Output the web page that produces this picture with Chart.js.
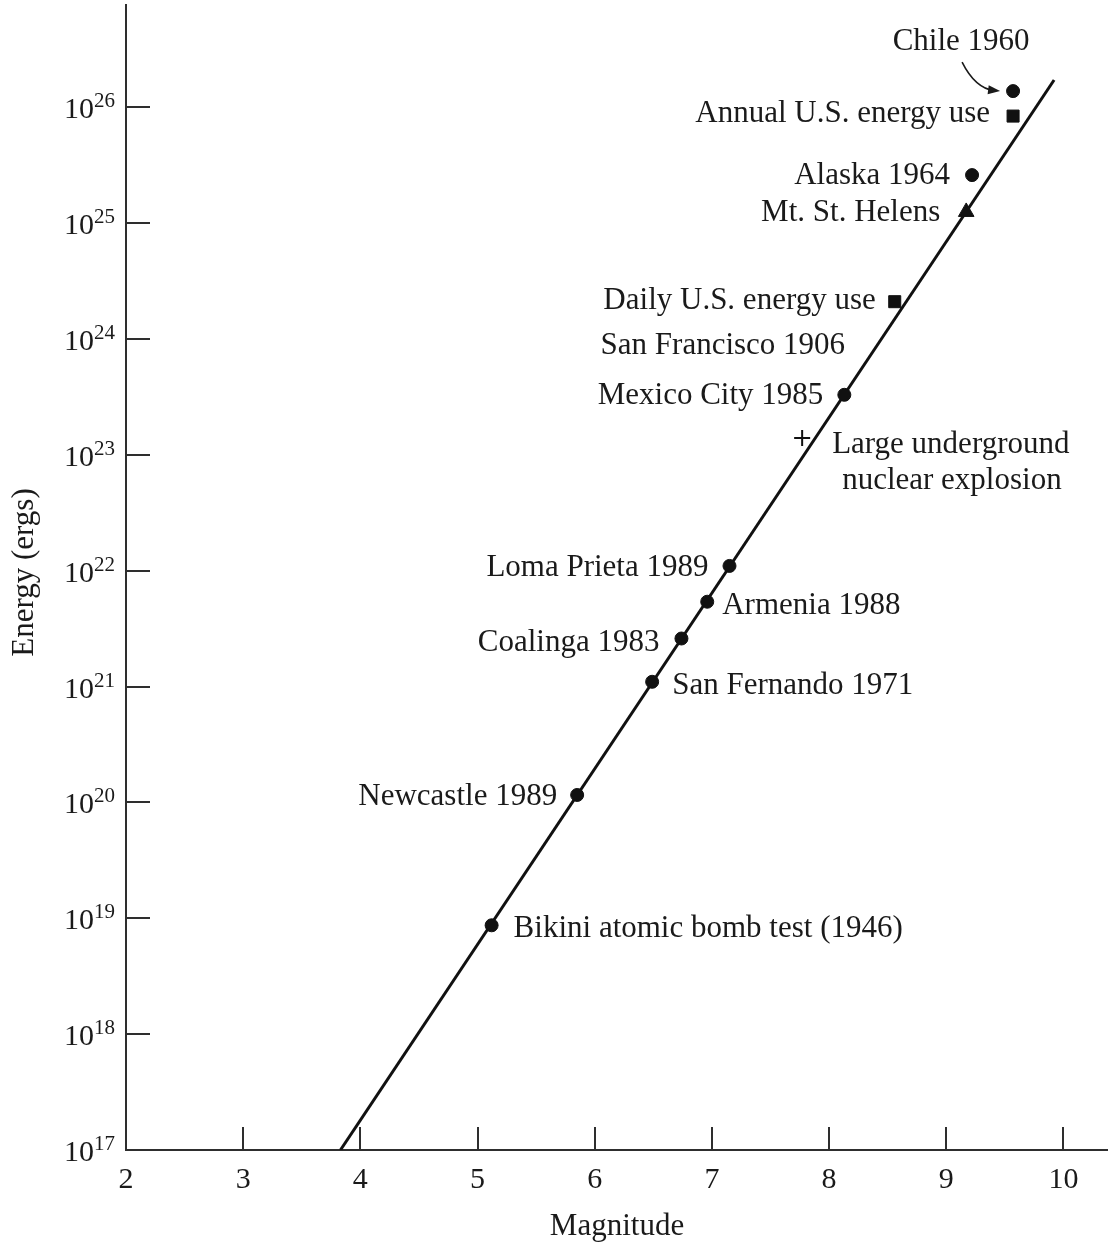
<!DOCTYPE html>
<html><head><meta charset="utf-8">
<script src="https://cdn.jsdelivr.net/npm/chart.js@4"></script>
<style>html,body{margin:0;padding:0;background:#fff;} #wrap{width:1108px;height:1242px;position:relative;}</style>
</head><body><div id="wrap"><canvas id="c"></canvas></div>
<script>
// ---- DATA ----
const magnitudeTicks = [2, 3, 4, 5, 6, 7, 8, 9, 10];
const energyExponents = [17, 18, 19, 20, 21, 22, 23, 24, 25, 26];

const lineMagnitudes = [3.83, 9.92];
const lineEnergies = [1e17, 1.72e26];

const quakeNames = ['Chile 1960', 'Alaska 1964', 'Mexico City 1985', 'Loma Prieta 1989', 'Armenia 1988',
  'Coalinga 1983', 'San Fernando 1971', 'Newcastle 1989', 'Bikini atomic bomb test (1946)'];
const quakeMagnitudes = [9.57, 9.22, 8.13, 7.15, 6.96, 6.74, 6.49, 5.85, 5.12];
const quakeEnergies = [1.38e26, 2.6e25, 3.3e23, 1.1e22, 5.4e21, 2.6e21, 1.1e21, 1.16e20, 8.7e18];

const energyUseNames = ['Annual U.S. energy use', 'Daily U.S. energy use'];
const energyUseMagnitudes = [9.57, 8.56];
const energyUseEnergies = [8.4e25, 2.1e24];

const volcanoNames = ['Mt. St. Helens'];
const volcanoMagnitudes = [9.17];
const volcanoEnergies = [1.25e25];

const explosionNames = ['Large underground', 'nuclear explosion'];
const explosionMagnitudes = [7.77];
const explosionEnergies = [1.4e23];

const noteNames = ['San Francisco 1906'];
const noteMagnitudes = [6.05];
const noteEnergies = [9.06e23];

const xTitle = 'Magnitude';
const yTitle = 'Energy (ergs)';

// ---- LABEL PLACEMENT (pixel offsets from marker: dx, baseline dy, align) ----
const quakeLabelPos = [[-52, -41, 'center'], [-22, 9, 'right'], [-21, 9, 'right'], [-21, 10, 'right'],
  [15, 12, 'left'], [-22, 12, 'right'], [20, 12, 'left'], [-20, 10, 'right'], [22, 12, 'left']];
const energyUseLabelPos = [[-23, 6, 'right'], [-19, 7, 'right']];
const volcanoLabelPos = [[-26, 9, 'right']];
const explosionLabelPos = [[30, 15, 'left'], [40, 51, 'left']];

const FONT = '"Liberation Serif", "DejaVu Serif", serif';
const INK = '#1a1a1a';
const AXIS = '#2e2e2e';

const toXY = (xs, ys) => xs.map((x, i) => ({ x: x, y: ys[i] }));

const decorPlugin = {
  id: 'decor',
  afterDraw(chart) {
    const ctx = chart.ctx;
    const xs = chart.scales.x, ys = chart.scales.y;
    const area = chart.chartArea;
    ctx.save();
    // inward ticks
    ctx.strokeStyle = AXIS;
    ctx.lineWidth = 2;
    energyExponents.forEach(e => {
      if (e === energyExponents[0]) return;
      const py = Math.round(ys.getPixelForValue(Math.pow(10, e)));
      ctx.beginPath(); ctx.moveTo(area.left, py); ctx.lineTo(area.left + 24, py); ctx.stroke();
    });
    magnitudeTicks.forEach(m => {
      if (m === magnitudeTicks[0]) return;
      const px = Math.round(xs.getPixelForValue(m));
      ctx.beginPath(); ctx.moveTo(px, area.bottom); ctx.lineTo(px, area.bottom - 23); ctx.stroke();
    });
    // y tick labels 10^n
    ctx.fillStyle = INK;
    energyExponents.forEach(e => {
      const py = ys.getPixelForValue(Math.pow(10, e));
      const right = area.left - 11;
      ctx.font = '21px ' + FONT;
      ctx.textAlign = 'right'; ctx.textBaseline = 'alphabetic';
      const sup = String(e);
      const w = ctx.measureText(sup).width;
      ctx.fillText(sup, right, py);
      ctx.font = '30px ' + FONT;
      ctx.fillText('10', right - w, py + 11);
    });
    // x tick labels
    ctx.font = '30px ' + FONT;
    ctx.textAlign = 'center';
    magnitudeTicks.forEach(m => {
      const px = xs.getPixelForValue(m);
      ctx.fillText(String(m), px, area.bottom + 38);
    });
    // axis titles
    ctx.font = '31px ' + FONT;
    ctx.fillText(xTitle, (area.left + area.right) / 2, area.bottom + 85);
    ctx.save();
    ctx.translate(33, (area.top + area.bottom) / 2 - 5);
    ctx.rotate(-Math.PI / 2);
    ctx.textAlign = 'center';
    ctx.fillText(yTitle, 0, 0);
    ctx.restore();

    // point labels
    const drawLabels = (names, mags, ens, pos) => {
      names.forEach((name, i) => {
        const k = Math.min(i, mags.length - 1);
        const px = xs.getPixelForValue(mags[k]);
        const py = ys.getPixelForValue(ens[k]);
        const p = pos[i];
        ctx.textAlign = p[2];
        ctx.fillText(name, px + p[0], py + p[1]);
      });
    };
    ctx.font = '31px ' + FONT;
    ctx.textBaseline = 'alphabetic';
    drawLabels(quakeNames, quakeMagnitudes, quakeEnergies, quakeLabelPos);
    drawLabels(energyUseNames, energyUseMagnitudes, energyUseEnergies, energyUseLabelPos);
    drawLabels(volcanoNames, volcanoMagnitudes, volcanoEnergies, volcanoLabelPos);
    drawLabels(explosionNames, explosionMagnitudes, explosionEnergies, explosionLabelPos);
    // free note (no marker)
    ctx.textAlign = 'left';
    ctx.fillText(noteNames[0], xs.getPixelForValue(noteMagnitudes[0]), ys.getPixelForValue(noteEnergies[0]) + 10);

    // Chile arrow
    const cx = xs.getPixelForValue(quakeMagnitudes[0]);
    const cy = ys.getPixelForValue(quakeEnergies[0]);
    const sx = cx - 51, sy = cy - 29, qx = cx - 38, qy = cy - 3, ex = cx - 13, ey = cy;
    ctx.strokeStyle = INK; ctx.lineWidth = 1.6;
    ctx.beginPath(); ctx.moveTo(sx, sy); ctx.quadraticCurveTo(qx, qy, ex - 6, ey - 0.5); ctx.stroke();
    const ang = Math.atan2(ey - qy, ex - qx);
    ctx.beginPath();
    ctx.moveTo(ex, ey);
    ctx.lineTo(ex - 12 * Math.cos(ang) + 4.5 * Math.sin(ang), ey - 12 * Math.sin(ang) - 4.5 * Math.cos(ang));
    ctx.lineTo(ex - 12 * Math.cos(ang) - 4.5 * Math.sin(ang), ey - 12 * Math.sin(ang) + 4.5 * Math.cos(ang));
    ctx.closePath(); ctx.fillStyle = INK; ctx.fill();
    ctx.restore();
  }
};

new Chart(document.getElementById('c'), {
  type: 'scatter',
  data: {
    datasets: [
      { label: 'fit', data: toXY(lineMagnitudes, lineEnergies), showLine: true, borderColor: '#111',
        borderWidth: 3, pointRadius: 0, fill: false, order: 5 },
      { label: 'quakes', data: toXY(quakeMagnitudes, quakeEnergies), pointStyle: 'circle', pointRadius: 6.5,
        borderWidth: 1, backgroundColor: '#111', borderColor: '#111', order: 1 },
      { label: 'energy use', data: toXY(energyUseMagnitudes, energyUseEnergies), pointStyle: 'rect', pointRadius: 8.5,
        borderWidth: 1, backgroundColor: '#111', borderColor: '#111', order: 1 },
      { label: 'volcano', data: toXY(volcanoMagnitudes, volcanoEnergies), pointStyle: 'triangle', pointRadius: 9,
        borderWidth: 1, backgroundColor: '#111', borderColor: '#111', order: 1 },
      { label: 'explosion', data: toXY(explosionMagnitudes, explosionEnergies), pointStyle: 'cross', pointRadius: 8,
        borderWidth: 2, backgroundColor: '#111', borderColor: '#111', order: 1 }
    ]
  },
  options: {
    responsive: true, maintainAspectRatio: false, animation: false,
    layout: { autoPadding: false, padding: { left: 126, right: 0, top: 5, bottom: 92 } },
    plugins: { legend: { display: false }, tooltip: { enabled: false } },
    scales: {
      x: { type: 'linear', min: 2, max: 10.38,
        ticks: { display: false }, grid: { display: false, drawTicks: false },
        border: { display: true, color: AXIS, width: 2 } },
      y: { type: 'logarithmic', min: 1e17, max: 7.64e26,
        ticks: { display: false }, grid: { display: false, drawTicks: false },
        border: { display: true, color: AXIS, width: 2 } }
    }
  },
  plugins: [decorPlugin]
});
</script></body></html>
